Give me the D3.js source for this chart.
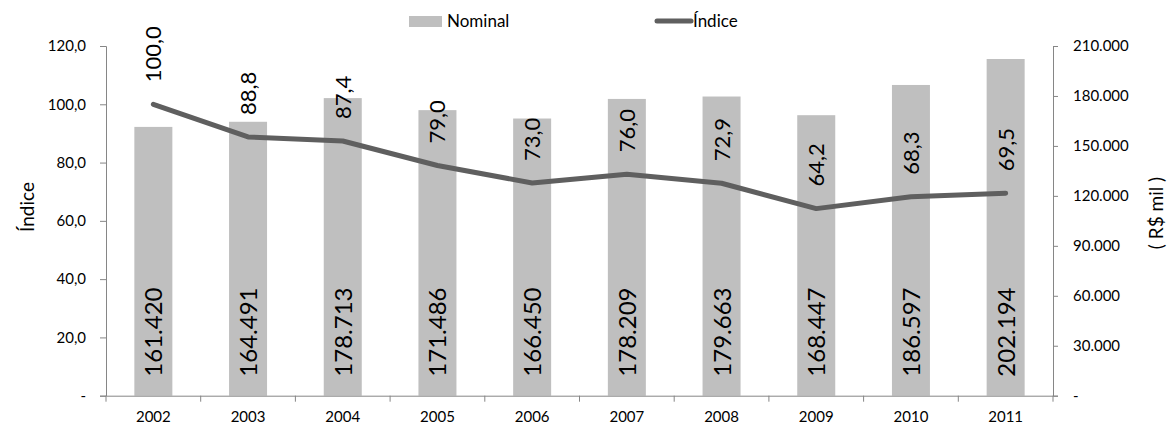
<!DOCTYPE html>
<html><head><meta charset="utf-8">
<script src="https://cdn.jsdelivr.net/npm/d3@7"></script>
<style>body{margin:0;background:#fff;} svg{display:block;} text{font-family:Lato,"Open Sans",sans-serif;fill:#000;}</style>
</head><body>
<svg id="c" width="1170" height="427"></svg>
<script>
const years = ["2002","2003","2004","2005","2006","2007","2008","2009","2010","2011"];
const nominal = [161420,164491,178713,171486,166450,178209,179663,168447,186597,202194];
const indice = [100.0,88.8,87.4,79.0,73.0,76.0,72.9,64.2,68.3,69.5];
const leftTicks = [0,20,40,60,80,100,120];
const rightTicks = [0,30000,60000,90000,120000,150000,180000,210000];

const svg = d3.select("#c");
const L = 106, R = 1053, T = 46, B = 395.7;
const xb = d3.scaleBand().domain(years).range([L, R]);
const yL = d3.scaleLinear().domain([0,120]).range([B, T]);
const yR = d3.scaleLinear().domain([0,210000]).range([B, T]);
const fmtL = d => d === 0 ? "-" : d3.format(".1f")(d).replace(".", ",");
const fmtR = d => d === 0 ? "-" : d3.format(",")(d).replace(/,/g, ".");
const fmtN = d => d3.format(",")(d).replace(/,/g, ".");

// bars
svg.append("g").selectAll("rect").data(nominal).join("rect")
  .attr("x", (d,i) => xb(years[i]) + xb.bandwidth()/2 - 19)
  .attr("width", 38)
  .attr("y", d => yR(d)).attr("height", d => B - yR(d))
  .attr("fill", "#bfbfbf");

// axes
const axL = svg.append("g").attr("transform", `translate(${L},0)`)
  .call(d3.axisLeft(yL).tickValues(leftTicks).tickFormat(fmtL).tickSizeOuter(0).tickSize(6).tickPadding(14));
const axR = svg.append("g").attr("transform", `translate(${R},0)`)
  .call(d3.axisRight(yR).tickValues(rightTicks).tickFormat(fmtR).tickSizeOuter(0).tickSize(5).tickPadding(15));
const axX = svg.append("g").attr("transform", `translate(0,${B})`)
  .call(d3.axisBottom(xb).tickSize(0).tickPadding(16).tickSizeOuter(0));
axX.selectAll(".bt").data(years.concat(["end"])).join("line").attr("class","bt")
  .attr("x1", (d,i) => L + i*xb.step()).attr("x2", (d,i) => L + i*xb.step())
  .attr("y1", 0).attr("y2", 6).attr("stroke", "#868686");
[axL, axR, axX].forEach(a => {
  a.selectAll("path.domain").attr("stroke", "#868686");
  a.selectAll(".tick line").attr("stroke", "#868686");
  a.selectAll("text").style("font-size","15px").attr("fill","#000");
});

// line
const line = d3.line().x((d,i) => xb(years[i]) + xb.bandwidth()/2).y(d => yL(d));
svg.append("path").datum(indice).attr("d", line)
  .attr("fill","none").attr("stroke","#5f5f5f").attr("stroke-width",5)
  .attr("stroke-linecap","round").attr("stroke-linejoin","round");

// bar labels
svg.append("g").selectAll("text").data(nominal).join("text")
  .attr("transform", (d,i) => `translate(${xb(years[i]) + xb.bandwidth()/2 + 9},${B-19}) rotate(-90)`)
  .style("font-size","24px").text(fmtN);

// line labels
svg.append("g").selectAll("text").data(indice).join("text")
  .attr("transform", (d,i) => `translate(${xb(years[i]) + xb.bandwidth()/2 + 8},${yL(d)-22}) rotate(-90)`)
  .style("font-size","22px").text(d => d3.format(".1f")(d).replace(".", ","));

// axis titles
svg.append("text").attr("transform","translate(34,207) rotate(-90)").attr("text-anchor","middle")
  .style("font-size","19px").text("Índice");
svg.append("text").attr("transform","translate(1163,213) rotate(-90)").attr("text-anchor","middle")
  .style("font-size","19px").text("( R$ mil )");

// legend
const lg = svg.append("g");
lg.append("rect").attr("x",409).attr("y",16).attr("width",33).attr("height",11).attr("fill","#bfbfbf");
lg.append("text").attr("x",447).attr("y",27).style("font-size","17px").text("Nominal");
lg.append("line").attr("x1",657).attr("x2",691).attr("y1",21).attr("y2",21)
  .attr("stroke","#5f5f5f").attr("stroke-width",5).attr("stroke-linecap","round");
lg.append("text").attr("x",693).attr("y",27).style("font-size","17px").text("Índice");
</script>
</body></html>
